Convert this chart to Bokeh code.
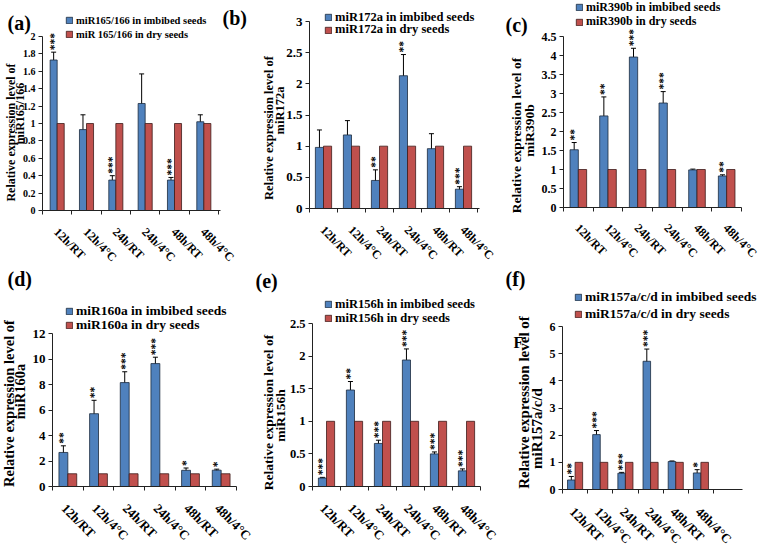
import math
from bokeh.plotting import figure
from bokeh.layouts import row, column
from bokeh.models import (Range1d, FixedTicker, CustomJSTickFormatter, ColumnDataSource,
                          Whisker, TeeHead, LabelSet, Label, LinearAxis, Legend, LegendItem)
from bokeh.embed import file_html
from bokeh.resources import INLINE

FONT = "Liberation Serif"
BLUE = "#4F81BD"
RED = "#C0504D"

categories = ["12h/RT", "12h/4°C", "24h/RT", "24h/4°C", "48h/RT", "48h/4°C"]

# (a) miR165/166
a_imbibed = [1.73, 0.93, 0.35, 1.23, 0.35, 1.02]
a_err = [0.09, 0.17, 0.05, 0.34, 0.03, 0.08]
a_dry = [1, 1, 1, 1, 1, 1]
a_stars = ["***", "", "***", "", "***", ""]
a_yticks = [0, 0.2, 0.4, 0.6, 0.8, 1, 1.2, 1.4, 1.6, 1.8, 2]

# (b) miR172a
b_imbibed = [0.98, 1.18, 0.45, 2.13, 0.96, 0.31]
b_err = [0.28, 0.23, 0.17, 0.34, 0.24, 0.04]
b_dry = [1, 1, 1, 1, 1, 1]
b_stars = ["", "", "**", "**", "", "***"]
b_yticks = [0, 0.5, 1, 1.5, 2, 2.5, 3]

# (c) miR390b
c_imbibed = [1.52, 2.41, 3.96, 2.75, 0.99, 0.83]
c_err = [0.19, 0.5, 0.23, 0.3, 0.02, 0.03]
c_dry = [1, 1, 1, 1, 1, 1]
c_stars = ["**", "**", "***", "***", "", "**"]
c_yticks = [0, 0.5, 1, 1.5, 2, 2.5, 3, 3.5, 4, 4.5]

# (d) miR160a
d_imbibed = [2.67, 5.71, 8.15, 9.64, 1.27, 1.28]
d_err = [0.52, 1.05, 0.85, 0.5, 0.18, 0.08]
d_dry = [1, 1, 1, 1, 1, 1]
d_stars = ["**", "**", "***", "***", "*", "*"]
d_yticks = [0, 2, 4, 6, 8, 10, 12]

# (e) miR156h
e_imbibed = [0.13, 1.48, 0.66, 1.94, 0.50, 0.24]
e_err = [0.01, 0.13, 0.05, 0.17, 0.03, 0.03]
e_dry = [1, 1, 1, 1, 1, 1]
e_stars = ["***", "**", "***", "***", "***", "***"]
e_yticks = [0, 0.5, 1, 1.5, 2, 2.5]

# (f) miR157a/c/d
f_imbibed = [0.35, 2.02, 0.60, 4.72, 1.03, 0.61]
f_err = [0.13, 0.15, 0.03, 0.45, 0.02, 0.12]
f_dry = [1, 1, 1, 1, 1, 1]
f_stars = ["**", "***", "***", "***", "", "*"]
f_yticks = [0, 1, 2, 3, 4, 5, 6]

panels = [
    dict(title="(a)", title_at=(7, 22), title_size=20,
         legend=("miR165/166 in imbibed seeds", "miR 165/166 in dry seeds"),
         ylab=("Relative expression level of", "miR165/166"),
         ylab_at=((10, 132), (19.5, 113)), ylab_size=12,
         imb=a_imbibed, err=a_err, dry=a_dry, stars=a_stars, yticks=a_yticks,
         fig=(0, 0, 255, 268), frame=(42, 36, 218, 210), axis_end=220, bw=0.24,
         leg_x=65, leg_rows=(19, 33), leg_size=10.5, ytick_size=10, xtick_size=12,
         xlab_off=(-1, -19.5), extra=[("(b)", 222, 17, 20)]),
    dict(title=None,
         legend=("miR172a in imbibed seeds", "miR172a in dry seeds"),
         ylab=("Relative expression level of", "miR172a"),
         ylab_at=((268, 127.5), (279, 110)), ylab_size=12.5,
         imb=b_imbibed, err=b_err, dry=b_dry, stars=b_stars, yticks=b_yticks,
         fig=(255, 0, 245, 268), frame=(309, 21, 477, 208), axis_end=479, bw=0.29,
         leg_x=324, leg_rows=(17, 29.5), leg_size=12.5, ytick_size=13, xtick_size=12,
         xlab_off=(-1, -19.5), extra=[]),
    dict(title="(c)", title_at=(505, 24), title_size=20,
         legend=("miR390b in imbibed seeds", "miR390b in dry seeds"),
         ylab=("Relative expression level of", "miR390b"),
         ylab_at=((516, 135), (529, 130)), ylab_size=13.5,
         imb=c_imbibed, err=c_err, dry=c_dry, stars=c_stars, yticks=c_yticks,
         fig=(500, 0, 260, 268), frame=(563, 36, 741, 207), axis_end=741, bw=0.28,
         leg_x=575, leg_rows=(7.5, 22), leg_size=12, ytick_size=12, xtick_size=12,
         xlab_off=(-1, -18.5), extra=[]),
    dict(title="(d)", title_at=(7, 278), title_size=20,
         legend=("miR160a in imbibed seeds", "miR160a in dry seeds"),
         ylab=("Relative expression level of", "miR160a"),
         ylab_at=((8.5, 403), (19.5, 391)), ylab_size=14.5,
         imb=d_imbibed, err=d_err, dry=d_dry, stars=d_stars, yticks=d_yticks,
         fig=(0, 268, 255, 284), frame=(52, 333, 236, 486), axis_end=236, bw=0.29,
         leg_x=65, leg_rows=(311, 324.5), leg_size=13.5, ytick_size=13, xtick_size=13,
         xlab_off=(-4, -19.5), extra=[]),
    dict(title="(e)", title_at=(255, 280), title_size=20,
         legend=("miR156h in imbibed seeds", "miR156h in dry seeds"),
         ylab=("Relative expression level of", "miR156h"),
         ylab_at=((268, 412), (280, 415)), ylab_size=13.5,
         imb=e_imbibed, err=e_err, dry=e_dry, stars=e_stars, yticks=e_yticks,
         fig=(255, 268, 245, 284), frame=(312, 323, 480, 486), axis_end=480, bw=0.29,
         leg_x=324, leg_rows=(304, 318), leg_size=12.5, ytick_size=12.5, xtick_size=13,
         xlab_off=(-4, -19.5), extra=[]),
    dict(title="(f)", title_at=(505, 278), title_size=20,
         legend=("miR157a/c/d in imbibed seeds", "miR157a/c/d in dry seeds"),
         ylab=("Relative expression level of", "miR157a/c/d"),
         ylab_at=((523, 402), (536, 428)), ylab_size=15,
         imb=f_imbibed, err=f_err, dry=f_dry, stars=f_stars, yticks=f_yticks,
         fig=(500, 268, 260, 284), frame=(562, 326, 713, 489), axis_end=742, bw=0.30,
         leg_x=574, leg_rows=(297, 314), leg_size=13.5, ytick_size=12, xtick_size=13,
         xlab_off=(-3, -20), extra=[("F", 513, 341.5, 16)]),
]


def build(s):
    fx, fy, w, h = s["fig"]
    fl, ft, fr, fb = s["frame"]
    n = len(categories)
    ymax = s["yticks"][-1]
    kx = (fr - fl) / n
    ky = (fb - ft) / ymax
    # the plotting frame fills the whole figure; axes sit at fixed data locations
    p = figure(width=w, height=h, output_backend="svg", toolbar_location=None,
               x_range=Range1d(-(fl - fx) / kx, n + (fx + w - fr) / kx),
               y_range=Range1d(-(fy + h - fb) / ky, ymax + (ft - fy) / ky),
               x_axis_location=None, y_axis_location=None, min_border=0,
               outline_line_color=None, background_fill_color="white",
               border_fill_color="white")
    p.grid.visible = False

    def sx(X):
        return X - fx

    def sy(Y):
        return fy + h - Y

    yax = LinearAxis(fixed_location=0, bounds=(0, ymax),
                     ticker=FixedTicker(ticks=s["yticks"]),
                     formatter=CustomJSTickFormatter(code="return String(+tick.toFixed(2))"),
                     axis_line_color="#222222", axis_line_width=1,
                     major_tick_out=4, major_tick_in=0, minor_tick_line_color=None,
                     major_tick_line_color="#222222",
                     major_label_text_font=FONT, major_label_text_font_style="bold",
                     major_label_text_font_size=f"{s['ytick_size']}px",
                     major_label_text_color="black", major_label_standoff=3)
    p.add_layout(yax, "left")

    bounds = [i for i in range(n + 1)]
    x_end = n + (s["axis_end"] - fr) / kx
    xax = LinearAxis(fixed_location=0, bounds=(0, x_end),
                     ticker=FixedTicker(ticks=bounds),
                     formatter=CustomJSTickFormatter(code="return ''"),
                     axis_line_color="#222222", axis_line_width=1,
                     major_tick_line_color="#222222", major_tick_out=4, major_tick_in=0,
                     minor_tick_line_color=None)
    p.add_layout(xax, "below")

    centers = [i + 0.5 for i in range(n)]
    # category names, slanted under each pair of bars
    xo, yo = s["xlab_off"]
    cat_src = ColumnDataSource(dict(x=centers, y=[0] * n, text=categories))
    p.add_layout(LabelSet(x="x", y="y", text="text", source=cat_src, angle=-math.pi / 4,
                          text_align="left", text_baseline="middle",
                          x_offset=xo, y_offset=yo,
                          text_font=FONT, text_font_style="bold",
                          text_font_size=f"{s['xtick_size']}px", text_color="black"))

    bw = s["bw"]
    imb, err, dry = s["imb"], s["err"], s["dry"]
    src = ColumnDataSource(dict(
        xb=[c - bw / 2 for c in centers],
        xr=[c + bw / 2 for c in centers],
        imb=imb, dry=dry,
        up=[v + e for v, e in zip(imb, err)],
        lo=[v - e for v, e in zip(imb, err)],
        stars=s["stars"],
    ))
    r1 = p.vbar(x="xb", top="imb", bottom=0, width=bw, source=src, fill_color=BLUE,
                line_color="#1c2b3d", line_width=0.8)
    r2 = p.vbar(x="xr", top="dry", bottom=0, width=bw, source=src, fill_color=RED,
                line_color="#3d1c1b", line_width=0.8)

    p.add_layout(Whisker(base="xb", upper="up", lower="lo", source=src,
                         line_color="black", line_width=1,
                         upper_head=TeeHead(size=5, line_color="black", line_width=1),
                         lower_head=TeeHead(size=5, line_color="black", line_width=1)))
    p.add_layout(LabelSet(x="xb", y="up", text="stars", source=src, angle=math.pi / 2,
                          text_align="left", text_baseline="middle", y_offset=2,
                          text_font=FONT, text_font_style="bold", text_font_size="11.5px",
                          text_color="black"))

    th = s["leg_size"] * 1.24
    for r, lab, Yc in zip((r1, r2), s["legend"], s["leg_rows"]):
        lg = Legend(items=[LegendItem(label=lab, renderers=[r])],
                    location=(sx(s["leg_x"]), sy(Yc) - th / 2),
                    glyph_width=8, glyph_height=8, label_standoff=3, label_height=1,
                    spacing=0, padding=0, margin=0, border_line_color=None,
                    background_fill_alpha=0, label_text_font=FONT,
                    label_text_font_style="bold",
                    label_text_font_size=f"{s['leg_size']}px", label_text_color="black")
        p.add_layout(lg)

    for txt, (X, Y) in zip(s["ylab"], s["ylab_at"]):
        p.add_layout(Label(x=sx(X), y=sy(Y), x_units="screen", y_units="screen", text=txt,
                           angle=math.pi / 2, text_align="center", text_baseline="middle",
                           text_font=FONT, text_font_style="bold",
                           text_font_size=f"{s['ylab_size']}px", text_color="black"))
    texts = list(s["extra"])
    if s["title"]:
        texts.append((s["title"], s["title_at"][0], s["title_at"][1], s["title_size"]))
    for txt, X, Y, size in texts:
        p.add_layout(Label(x=sx(X), y=sy(Y), x_units="screen", y_units="screen", text=txt,
                           text_align="left", text_baseline="middle",
                           text_font=FONT, text_font_style="bold",
                           text_font_size=f"{size}px", text_color="black"))
    return p


figs = [build(s) for s in panels]
layout = column(row(*figs[:3], spacing=0), row(*figs[3:], spacing=0), spacing=0)

with open("out.html", "w") as fh:
    fh.write(file_html(layout, INLINE))
